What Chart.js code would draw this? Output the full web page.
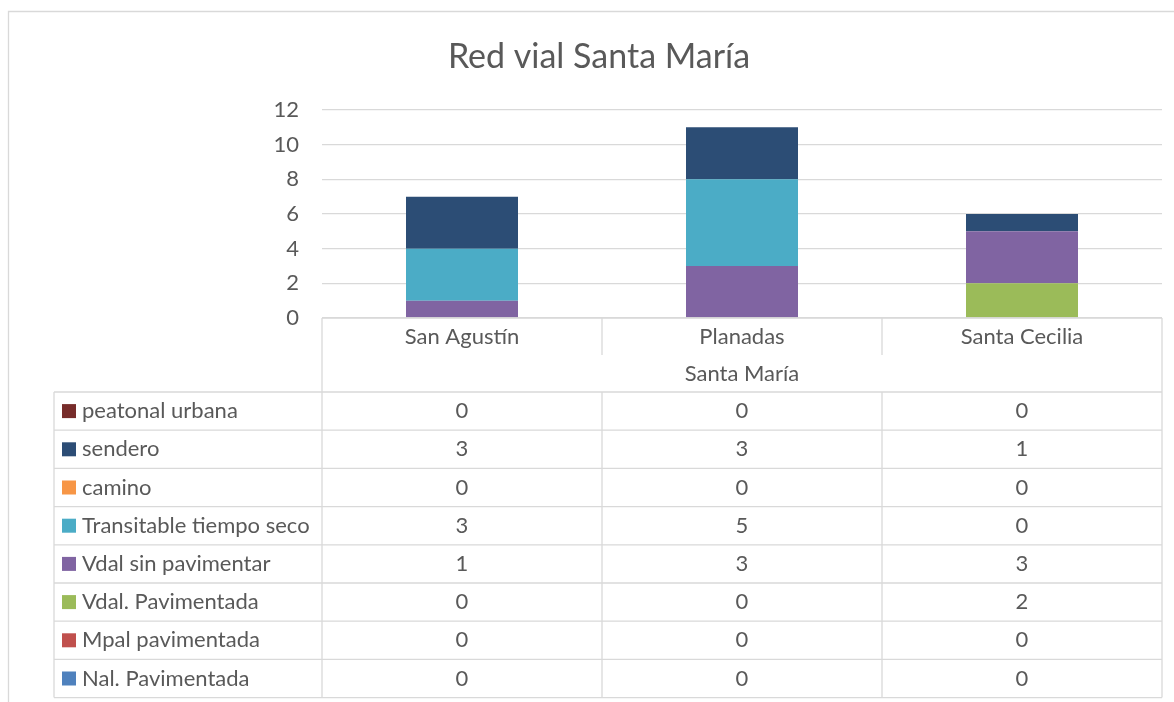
<!DOCTYPE html>
<html>
<head>
<meta charset="utf-8">
<script src="https://cdn.jsdelivr.net/npm/chart.js@4"></script>
<style>
  html, body { margin: 0; padding: 0; background: #fff; }
  canvas { display: block; }
</style>
</head>
<body>
<canvas id="myChart" width="1174" height="702"></canvas>
<script>
const chartTitle = 'Red vial Santa María';
const groupLabel = 'Santa María';
const categories = ['San Agustín', 'Planadas', 'Santa Cecilia'];

// series, bottom of the stack first
const nalPavimentada = [0, 0, 0];
const mpalPavimentada = [0, 0, 0];
const vdalPavimentada = [0, 0, 2];
const vdalSinPavimentar = [1, 3, 3];
const transitableTiempoSeco = [3, 5, 0];
const camino = [0, 0, 0];
const sendero = [3, 3, 1];
const peatonalUrbana = [0, 0, 0];

const yMax = 12;
const yStep = 2;

const series = [
    { name: 'Nal. Pavimentada', values: nalPavimentada, color: '#4F81BD' },
    { name: 'Mpal pavimentada', values: mpalPavimentada, color: '#C0504D' },
    { name: 'Vdal. Pavimentada', values: vdalPavimentada, color: '#9BBB59' },
    { name: 'Vdal sin pavimentar', values: vdalSinPavimentar, color: '#8064A2' },
    { name: 'Transitable tiempo seco', values: transitableTiempoSeco, color: '#4BACC6' },
    { name: 'camino', values: camino, color: '#F79646' },
    { name: 'sendero', values: sendero, color: '#2C4D75' },
    { name: 'peatonal urbana', values: peatonalUrbana, color: '#772C2A' },
];

const FONT = 'Lato';
const TEXT = '#595959';
const LINE = '#D9D9D9';

const dataSets = series.reduce((acc, element) => {
    acc = [...acc, {
        label: element.name,
        data: element.values,
        backgroundColor: element.color,
        borderWidth: 0,
    }];
    return acc;
}, []);

// frame, title and the data table under the plot
const tablePlugin = {
    id: 'dataTable',
    beforeDraw(chart) {
        const ctx = chart.ctx;
        ctx.save();
        ctx.fillStyle = '#fff';
        ctx.fillRect(0, 0, chart.width, chart.height);
        ctx.strokeStyle = LINE;
        ctx.lineWidth = 1.3;
        ctx.beginPath();
        ctx.moveTo(8.5, chart.height);
        ctx.lineTo(8.5, 11.5);
        ctx.lineTo(chart.width, 11.5);
        ctx.stroke();
        ctx.restore();
    },
    afterDraw(chart) {
        const ctx = chart.ctx;
        const area = chart.chartArea;
        const x = chart.scales.x;
        const n = categories.length;
        const centers = categories.map((c, i) => x.getPixelForValue(i));
        const edges = [area.left];
        for (let i = 1; i < n; i++) edges.push((centers[i - 1] + centers[i]) / 2);
        edges.push(area.right);

        const legendLeft = 54;
        const catTop = area.bottom;
        const catBottom = catTop + 37;
        const groupBottom = catBottom + 37;
        const rowH = 38.2;
        const rows = series.slice().reverse();
        const tableBottom = groupBottom + rowH * rows.length;

        ctx.save();
        // title
        ctx.fillStyle = TEXT;
        ctx.font = `34px ${FONT}`;
        ctx.textAlign = 'center';
        ctx.textBaseline = 'middle';
        ctx.fillText(chartTitle, 599, 57);

        ctx.strokeStyle = LINE;
        ctx.lineWidth = 1.3;
        const line = (x1, y1, x2, y2) => {
            ctx.beginPath();
            ctx.moveTo(x1, y1);
            ctx.lineTo(x2, y2);
            ctx.stroke();
        };
        // category header
        line(area.left, catTop, area.right, catTop);
        line(area.left, catTop, area.left, tableBottom);
        line(area.right, catTop, area.right, tableBottom);
        for (let i = 1; i < n; i++) line(edges[i], catTop, edges[i], catBottom);
        // series rows
        line(legendLeft, groupBottom, legendLeft, tableBottom);
        for (let i = 1; i < n; i++) line(edges[i], groupBottom, edges[i], tableBottom);
        for (let r = 0; r <= rows.length; r++) {
            const y = groupBottom + r * rowH;
            line(legendLeft, y, area.right, y);
        }

        ctx.font = `22px ${FONT}`;
        ctx.fillStyle = TEXT;
        categories.forEach((c, i) => ctx.fillText(c, centers[i], (catTop + catBottom) / 2));
        ctx.fillText(groupLabel, (area.left + area.right) / 2, (catBottom + groupBottom) / 2);

        rows.forEach((s, r) => {
            const cy = groupBottom + r * rowH + rowH / 2;
            ctx.fillStyle = s.color;
            ctx.fillRect(62, cy - 7, 14, 14);
            ctx.fillStyle = TEXT;
            ctx.textAlign = 'left';
            ctx.fillText(s.name, 82, cy);
            ctx.textAlign = 'center';
            s.values.forEach((v, i) => ctx.fillText(String(v), centers[i], cy));
        });
        ctx.restore();
    }
};

const ctx = document.getElementById('myChart').getContext('2d');
const myChart = new Chart(ctx, {
    type: 'bar',
    data: {
        labels: categories,
        datasets: dataSets
    },
    options: {
        responsive: false,
        animation: false,
        layout: {
            padding: { top: 110, bottom: 702 - 318, left: 0, right: 12 }
        },
        datasets: {
            bar: {
                barPercentage: 0.4,
                categoryPercentage: 1,
            }
        },
        scales: {
            x: {
                stacked: true,
                display: false,
            },
            y: {
                stacked: true,
                min: 0,
                max: yMax,
                afterFit(scale) { scale.width = 322; },
                ticks: {
                    stepSize: yStep,
                    padding: 23,
                    color: TEXT,
                    font: { family: FONT, size: 22 },
                },
                border: { display: false },
                grid: {
                    color: LINE,
                    lineWidth: 1.3,
                    drawTicks: false,
                }
            }
        },
        plugins: {
            legend: { display: false },
            tooltip: { enabled: false },
        }
    },
    plugins: [tablePlugin]
});
</script>
</body>
</html>
